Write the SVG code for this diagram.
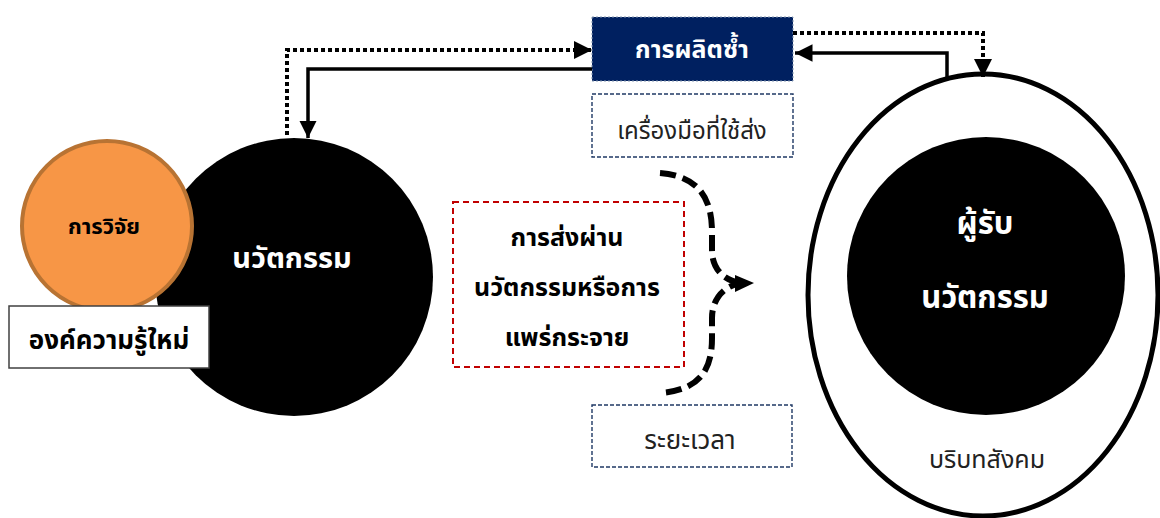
<svg xmlns="http://www.w3.org/2000/svg" width="1160" height="518" viewBox="0 0 1160 518">
<defs>
<style>
text{font-family:"Noto Sans Thai","Leelawadee UI",Tahoma,"DejaVu Sans","Noto Sans",sans-serif;text-anchor:middle}
.w{fill:#fff}
.b{font-weight:bold}
.thin{fill:none;stroke:#1F3864;stroke-width:1.4;stroke-dasharray:4 2}
.solid{fill:none;stroke:#000;stroke-width:3.5}
.dot{fill:none;stroke:#000;stroke-width:4;stroke-dasharray:4 3}
</style>
<marker id="ah" viewBox="0 0 10 10" refX="10" refY="5" markerWidth="5" markerHeight="5" markerUnits="strokeWidth" orient="auto">
<path d="M0,0 L10,5 L0,10 Z" fill="#000"/>
</marker>
<marker id="ah2" viewBox="0 0 10 10" refX="10" refY="5" markerWidth="4.5" markerHeight="4.5" markerUnits="strokeWidth" orient="auto">
<path d="M0,0 L10,5 L0,10 Z" fill="#000"/>
</marker>
</defs>
<g id="innovation">
<circle cx="294" cy="277" r="139" fill="#000"/>
<text x="292" y="268" class="w b" font-size="29">นวัตกรรม</text>
</g>
<g id="research">
<circle cx="107" cy="226" r="85" fill="#F79646" stroke="#B87333" stroke-width="4"/>
<text x="104" y="234" class="b" font-size="22">การวิจัย</text>
</g>
<g id="knowledge">
<rect x="9" y="306" width="200" height="62" fill="#fff" stroke="#404040" stroke-width="1.5"/>
<text x="109" y="349" class="b" font-size="26">องค์ความรู้ใหม่</text>
</g>
<g id="reproduction">
<rect x="592" y="17" width="201" height="64" fill="#002060" stroke="#8497B0" stroke-width="1" stroke-dasharray="2 2"/>
<text x="692" y="58" class="w b" font-size="25">การผลิตซ้ำ</text>
</g>
<g id="tools">
<rect x="592" y="94" width="201" height="63" class="thin" fill="#fff"/>
<text x="692" y="139" font-size="24" fill="#222">เครื่องมือที่ใช้ส่ง</text>
</g>
<g id="diffusion">
<rect x="453" y="202" width="231" height="165" fill="#fff" stroke="#C00000" stroke-width="2" stroke-dasharray="6 4"/>
<text x="567" y="246" class="b" font-size="25">การส่งผ่าน</text>
<text x="567" y="296" class="b" font-size="25">นวัตกรรมหรือการ</text>
<text x="567" y="346" class="b" font-size="25">แพร่กระจาย</text>
</g>
<g id="time">
<rect x="592" y="405" width="200" height="62" class="thin" fill="#fff"/>
<text x="690" y="449" font-size="26" fill="#222">ระยะเวลา</text>
</g>
<g id="adopter">
<ellipse cx="983" cy="295" rx="175" ry="221" fill="#fff" stroke="#000" stroke-width="5"/>
<circle cx="986" cy="276" r="139" fill="#000"/>
<text x="985" y="234" class="w b" font-size="31">ผู้รับ</text>
<text x="985" y="308" class="w b" font-size="31">นวัตกรรม</text>
<text x="987" y="468" font-size="25" fill="#222">บริบทสังคม</text>
</g>
<g id="connectors">
<path class="dot" d="M287,135 V50 H592" marker-end="url(#ah2)"/>
<path class="solid" d="M592,69 H308 V138" marker-end="url(#ah)"/>
<path class="solid" d="M947,78 V53 H795" marker-end="url(#ah)"/>
<path class="dot" d="M793,33 H983 V77" marker-end="url(#ah2)"/>
<path fill="none" stroke="#000" stroke-width="6" stroke-dasharray="16 7" d="M660,173 C700,176 712,200 712,232 L712,250 C712,272 728,283 745,283 M745,283 C728,283 712,296 712,318 L712,338 C712,370 700,390 660,393"/>
<path d="M735,275 L754,283 L735,292 Z" fill="#000"/>
</g>
</svg>
